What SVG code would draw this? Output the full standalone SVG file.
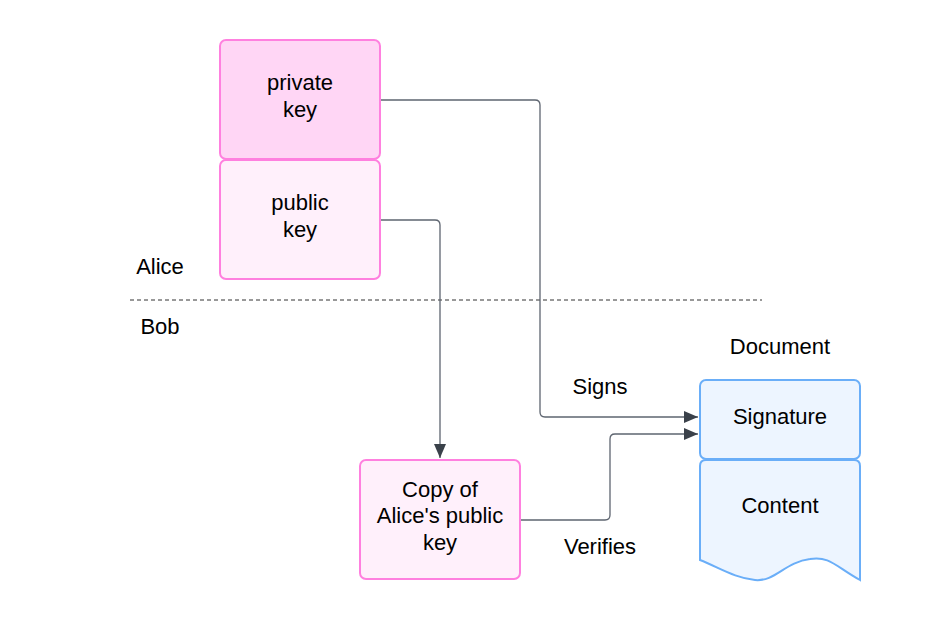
<svg xmlns="http://www.w3.org/2000/svg" width="940" height="620" viewBox="0 0 940 620">
<style>
text{font-family:"Liberation Sans",Arial,sans-serif;font-size:22px;fill:#000;text-anchor:middle}
.pk{stroke:#ff80df;stroke-width:2}
.doc{fill:#edf5ff;stroke:#6aaef8;stroke-width:2}
.conn{fill:none;stroke:#5e6570;stroke-width:1.3;stroke-linejoin:round}
</style>
<defs>
<marker id="arr" markerWidth="14" markerHeight="12" refX="14" refY="6" orient="auto" markerUnits="userSpaceOnUse">
<path d="M0,0 L14,6 L0,12 Z" fill="#3a414a"/>
</marker>
</defs>
<rect width="940" height="620" fill="#fff"/>
<g id="labels">
<text x="160" y="274">Alice</text>
<text x="160" y="334">Bob</text>
<text x="780" y="354">Document</text>
<text x="600" y="394">Signs</text>
<text x="600" y="554">Verifies</text>
</g>
<line x1="130" y1="300" x2="762" y2="300" stroke="#333" stroke-width="1" stroke-dasharray="4,3"/>
<g id="connectors">
<path class="conn" d="M380,100 H535 Q540,100 540,105 V412 Q540,417 545,417 H698" marker-end="url(#arr)"/>
<path class="conn" d="M380,220 H435 Q440,220 440,225 V458" marker-end="url(#arr)"/>
<path class="conn" d="M520,520 H605 Q610,520 610,515 V439 Q610,434 615,434 H698" marker-end="url(#arr)"/>
</g>
<g id="private-key">
<rect class="pk" x="220" y="40" width="160" height="119" rx="6" fill="#ffd6f5"/>
<text x="300" y="90">private</text>
<text x="300" y="117">key</text>
</g>
<g id="public-key">
<rect class="pk" x="220" y="160" width="160" height="119" rx="6" fill="#fff0fb"/>
<text x="300" y="210">public</text>
<text x="300" y="237">key</text>
</g>
<g id="copy-key">
<rect class="pk" x="360" y="460" width="160" height="119" rx="6" fill="#fff0fb"/>
<text x="440" y="497">Copy of</text>
<text x="440" y="523">Alice's public</text>
<text x="440" y="550">key</text>
</g>
<g id="signature">
<rect class="doc" x="700" y="380" width="160" height="79" rx="6"/>
<text x="780" y="424">Signature</text>
</g>
<g id="content">
<path class="doc" d="M706,460 H854 Q860,460 860,466 V580 C835,566 830,556 810,559 C785,562 775,582 755,580 C735,578 720,568 700,560 V466 Q700,460 706,460 Z"/>
<text x="780" y="513">Content</text>
</g>
</svg>
